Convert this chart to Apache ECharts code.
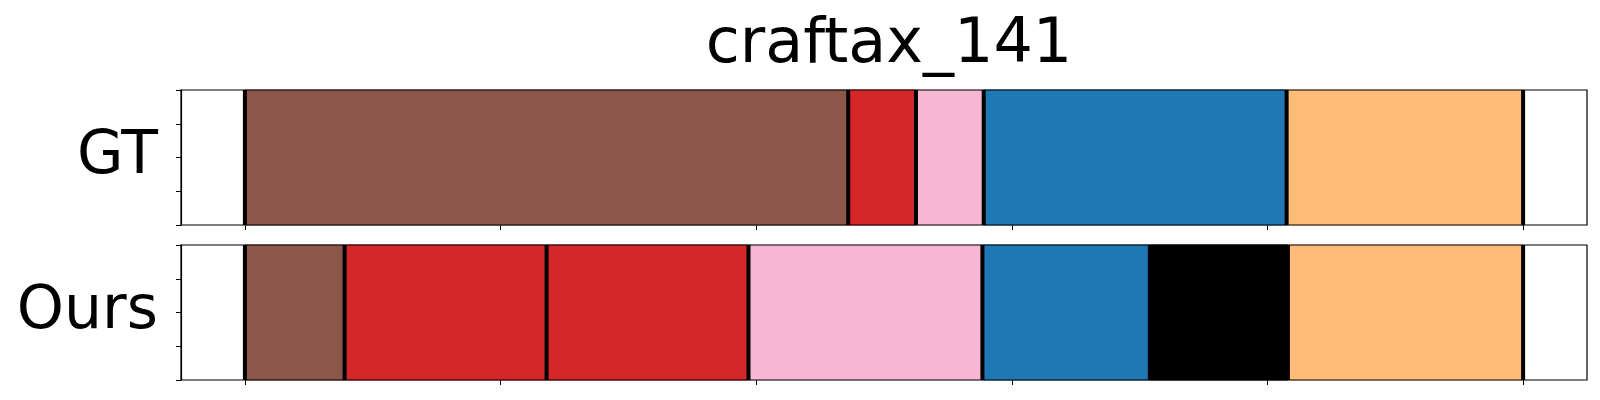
<!DOCTYPE html>
<html>
<head>
<meta charset="utf-8">
<script src="https://cdn.jsdelivr.net/npm/echarts@6/dist/echarts.min.js"></script>
<style>
html,body{margin:0;padding:0;background:#fff;}
#chart{width:1600px;height:400px;}
</style>
</head>
<body>
<div id="chart"></div>
<script>
// ---- data ----
const titleText = 'craftax_141';
const rowLabels = ['GT', 'Ours'];
const gtBounds = [0, 47.2, 52.5, 57.8, 81.5, 100];
const gtLabels = ['brown', 'red', 'pink', 'blue', 'orange'];
const oursBounds = [0, 7.8, 23.6, 39.4, 57.7, 70.8, 81.6, 100];
const oursLabels = ['brown', 'red', 'red', 'pink', 'blue', 'black', 'orange'];
const xTicks = [0, 20, 40, 60, 80, 100];
const yTicks = [0, 0.25, 0.5, 0.75, 1];
const xMin = -5, xMax = 105;

const palette = {
  brown: '#8c564b', red: '#d62728', pink: '#f7b6d2',
  blue: '#1f77b4', orange: '#ffbb78', black: '#000000'
};

function segData(bounds) {
  const out = [];
  for (let i = 0; i < bounds.length - 1; i++) out.push([bounds[i], bounds[i + 1], i]);
  return out;
}

function makeRectRender(labels) {
  return function (params, api) {
    const s = api.coord([api.value(0), 1]);
    const e = api.coord([api.value(1), 0]);
    const c = palette[labels[api.value(2)]];
    return {
      type: 'rect',
      shape: { x: s[0], y: s[1], width: e[0] - s[0], height: e[1] - s[1] },
      style: { fill: c, stroke: c, lineWidth: 1 }
    };
  };
}
const lineRender = function (params, api) {
  const t = api.coord([api.value(0), 1]);
  const b = api.coord([api.value(0), 0]);
  return {
    type: 'line',
    shape: { x1: t[0], y1: t[1], x2: b[0], y2: b[1] },
    style: { stroke: '#000', lineWidth: 4 }
  };
};

const font = 'DejaVu Sans';
const gridL = 181, gridW = 1406;
const grids = [
  { left: gridL, width: gridW, top: 90, height: 135 },
  { left: gridL, width: gridW, top: 245, height: 135 }
];

function xAxis(idx) {
  return {
    type: 'value', gridIndex: idx, min: xMin, max: xMax,
    axisLine: { show: false, onZero: false },
    axisTick: { show: true, customValues: xTicks, length: 5, inside: false, lineStyle: { color: '#000', width: 1 } },
    axisLabel: { show: false },
    splitLine: { show: false }
  };
}
function yAxis(idx) {
  return {
    type: 'value', gridIndex: idx, min: 0, max: 1, interval: 0.25,
    name: rowLabels[idx], nameLocation: 'middle', nameRotate: 0, nameGap: 23,
    nameTextStyle: { fontFamily: font, fontSize: 60, color: '#000', align: 'right', verticalAlign: 'middle', padding: [0, 0, 9, 0] },
    axisLine: { show: true, onZero: false, lineStyle: { color: '#000', width: 1.2 } },
    axisTick: { show: true, customValues: yTicks, length: 5, inside: false, lineStyle: { color: '#000', width: 1 } },
    axisLabel: { show: false },
    splitLine: { show: false }
  };
}

const chart = echarts.init(document.getElementById('chart'));
chart.setOption({
  animation: false,
  backgroundColor: '#fff',
  title: {
    text: titleText, left: 884, top: 10, textAlign: 'center',
    textStyle: { fontFamily: font, fontSize: 62, fontWeight: 'normal', color: '#000' }
  },
  grid: grids.map(g => Object.assign({ show: true, borderColor: '#000', borderWidth: 1.2, z: 10 }, g)),
  xAxis: [xAxis(0), xAxis(1)],
  yAxis: [yAxis(0), yAxis(1)],
  series: [
    { type: 'custom', xAxisIndex: 0, yAxisIndex: 0, renderItem: makeRectRender(gtLabels), data: segData(gtBounds), encode: { x: [0, 1] } },
    { type: 'custom', xAxisIndex: 0, yAxisIndex: 0, renderItem: lineRender, data: gtBounds.map(b => [b]), encode: { x: 0 }, z: 3 },
    { type: 'custom', xAxisIndex: 1, yAxisIndex: 1, renderItem: makeRectRender(oursLabels), data: segData(oursBounds), encode: { x: [0, 1] } },
    { type: 'custom', xAxisIndex: 1, yAxisIndex: 1, renderItem: lineRender, data: oursBounds.map(b => [b]), encode: { x: 0 }, z: 3 }
  ]
});
</script>
</body>
</html>
